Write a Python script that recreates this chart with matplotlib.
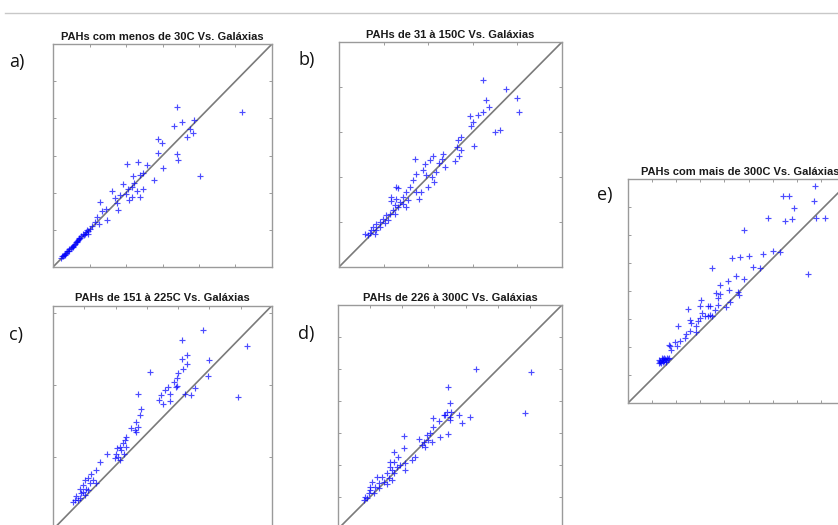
import numpy as np
import matplotlib
matplotlib.use('Agg')
import matplotlib.pyplot as plt
from matplotlib.lines import Line2D

# values, as fractions of each axis (diagonal = 1:1)
pts_a = [(0.565, 0.716), (0.861, 0.696), (0.588, 0.648), (0.554, 0.632), (0.645, 0.659),
         (0.626, 0.621), (0.638, 0.602), (0.610, 0.581), (0.481, 0.572), (0.499, 0.554),
         (0.481, 0.509), (0.565, 0.506), (0.572, 0.482), (0.671, 0.409), (0.336, 0.464),
         (0.390, 0.469), (0.431, 0.457), (0.504, 0.442), (0.409, 0.422), (0.397, 0.412),
         (0.367, 0.407), (0.461, 0.389), (0.370, 0.377), (0.359, 0.359), (0.321, 0.371),
         (0.344, 0.352), (0.412, 0.352), (0.268, 0.341), (0.283, 0.311), (0.306, 0.322),
         (0.333, 0.329), (0.349, 0.299), (0.298, 0.254), (0.294, 0.287), (0.215, 0.292),
         (0.242, 0.262), (0.222, 0.251), (0.199, 0.222), (0.248, 0.210), (0.192, 0.202),
         (0.177, 0.183), (0.157, 0.165), (0.135, 0.147), (0.161, 0.150), (0.212, 0.192),
         (0.382, 0.341), (0.397, 0.314), (0.359, 0.314),
         (0.035, 0.042), (0.040, 0.048), (0.045, 0.050), (0.050, 0.055), (0.055, 0.060),
         (0.060, 0.063), (0.065, 0.070), (0.070, 0.072), (0.075, 0.080), (0.080, 0.085),
         (0.085, 0.088), (0.090, 0.095), (0.095, 0.100), (0.100, 0.105), (0.105, 0.112),
         (0.110, 0.113), (0.115, 0.120), (0.120, 0.125), (0.125, 0.130), (0.130, 0.138),
         (0.140, 0.145), (0.145, 0.150), (0.150, 0.158), (0.055, 0.052), (0.075, 0.070),
         (0.090, 0.088), (0.110, 0.118), (0.120, 0.130), (0.160, 0.160), (0.170, 0.172)]

pts_b = [(0.644, 0.831), (0.749, 0.789), (0.796, 0.749), (0.659, 0.742), (0.674, 0.709),
         (0.805, 0.690), (0.644, 0.690), (0.624, 0.675), (0.587, 0.671), (0.599, 0.645),
         (0.594, 0.626), (0.722, 0.611), (0.698, 0.602), (0.534, 0.565), (0.549, 0.576),
         (0.605, 0.540), (0.527, 0.534), (0.545, 0.519), (0.539, 0.493), (0.519, 0.472),
         (0.467, 0.504), (0.460, 0.482), (0.422, 0.493), (0.449, 0.464), (0.474, 0.445),
         (0.407, 0.475), (0.386, 0.460), (0.340, 0.478), (0.377, 0.430), (0.437, 0.423),
         (0.392, 0.408), (0.415, 0.401), (0.347, 0.415), (0.400, 0.356), (0.428, 0.378),
         (0.332, 0.386), (0.317, 0.356), (0.347, 0.334), (0.368, 0.334), (0.358, 0.304),
         (0.302, 0.334), (0.257, 0.356), (0.265, 0.349), (0.287, 0.312), (0.310, 0.297),
         (0.275, 0.289), (0.257, 0.304), (0.235, 0.309), (0.287, 0.279), (0.302, 0.267),
         (0.265, 0.267), (0.250, 0.274), (0.243, 0.252), (0.228, 0.237), (0.250, 0.237),
         (0.213, 0.230), (0.198, 0.215), (0.220, 0.208), (0.183, 0.200), (0.168, 0.190),
         (0.205, 0.196), (0.153, 0.178), (0.168, 0.163), (0.145, 0.163), (0.138, 0.151),
         (0.160, 0.148), (0.130, 0.141), (0.235, 0.294), (0.183, 0.178), (0.115, 0.148)]

pts_c = [(0.683, 0.892), (0.587, 0.847), (0.887, 0.820), (0.610, 0.777), (0.591, 0.761),
         (0.713, 0.758), (0.613, 0.740), (0.595, 0.718), (0.572, 0.699), (0.709, 0.684),
         (0.445, 0.702), (0.564, 0.678), (0.552, 0.658), (0.526, 0.636), (0.564, 0.639),
         (0.560, 0.635), (0.648, 0.633), (0.602, 0.607), (0.628, 0.599), (0.846, 0.592),
         (0.534, 0.607), (0.511, 0.621), (0.495, 0.599), (0.485, 0.577), (0.503, 0.562),
         (0.534, 0.574), (0.389, 0.607), (0.404, 0.540), (0.396, 0.510), (0.378, 0.480),
         (0.389, 0.458), (0.373, 0.443), (0.381, 0.436), (0.358, 0.452), (0.335, 0.413),
         (0.328, 0.399), (0.320, 0.384), (0.305, 0.369), (0.332, 0.369), (0.290, 0.362),
         (0.312, 0.354), (0.287, 0.339), (0.297, 0.324), (0.323, 0.339), (0.282, 0.317),
         (0.305, 0.310), (0.247, 0.339), (0.213, 0.302), (0.195, 0.265), (0.175, 0.250),
         (0.160, 0.228), (0.183, 0.221), (0.145, 0.221), (0.168, 0.206), (0.137, 0.198),
         (0.122, 0.183), (0.152, 0.183), (0.130, 0.161), (0.107, 0.149), (0.099, 0.131),
         (0.114, 0.131), (0.160, 0.176), (0.198, 0.206), (0.137, 0.168), (0.122, 0.139),
         (0.091, 0.124), (0.145, 0.153)]

pts_d = [(0.617, 0.714), (0.860, 0.702), (0.489, 0.632), (0.498, 0.564), (0.835, 0.519),
         (0.486, 0.524), (0.478, 0.509), (0.500, 0.501), (0.538, 0.509), (0.590, 0.501),
         (0.553, 0.475), (0.500, 0.487), (0.426, 0.494), (0.449, 0.484), (0.423, 0.457),
         (0.489, 0.424), (0.456, 0.412), (0.412, 0.427), (0.397, 0.420), (0.360, 0.400),
         (0.382, 0.390), (0.404, 0.397), (0.419, 0.390), (0.374, 0.375), (0.389, 0.368),
         (0.296, 0.417), (0.293, 0.360), (0.345, 0.323), (0.330, 0.308), (0.251, 0.345),
         (0.270, 0.323), (0.300, 0.293), (0.248, 0.301), (0.278, 0.286), (0.233, 0.278),
         (0.241, 0.263), (0.218, 0.249), (0.248, 0.249), (0.300, 0.263), (0.196, 0.234),
         (0.226, 0.226), (0.174, 0.231), (0.152, 0.211), (0.181, 0.204), (0.204, 0.211),
         (0.166, 0.189), (0.144, 0.174), (0.159, 0.159), (0.137, 0.159), (0.122, 0.144),
         (0.129, 0.137), (0.114, 0.129), (0.241, 0.219), (0.218, 0.201), (0.233, 0.301),
         (0.263, 0.278), (0.181, 0.182), (0.144, 0.189), (0.472, 0.509), (0.505, 0.524)]

pts_e = [(0.836, 0.967), (0.692, 0.923), (0.717, 0.923), (0.829, 0.904), (0.740, 0.871),
         (0.625, 0.826), (0.699, 0.811), (0.732, 0.821), (0.841, 0.826), (0.878, 0.826),
         (0.516, 0.771), (0.647, 0.677), (0.680, 0.673), (0.603, 0.667), (0.540, 0.655),
         (0.499, 0.652), (0.466, 0.647), (0.558, 0.607), (0.588, 0.603), (0.375, 0.603),
         (0.481, 0.565), (0.516, 0.554), (0.804, 0.576), (0.446, 0.543), (0.409, 0.528),
         (0.451, 0.506), (0.491, 0.494), (0.496, 0.484), (0.394, 0.491), (0.412, 0.488),
         (0.402, 0.469), (0.457, 0.449), (0.439, 0.429), (0.324, 0.458), (0.357, 0.435),
         (0.365, 0.432), (0.402, 0.439), (0.320, 0.435), (0.387, 0.417), (0.376, 0.390),
         (0.332, 0.402), (0.320, 0.379), (0.312, 0.365), (0.342, 0.390), (0.268, 0.420),
         (0.283, 0.357), (0.305, 0.342), (0.275, 0.320), (0.302, 0.315), (0.260, 0.310),
         (0.223, 0.342), (0.253, 0.290), (0.231, 0.275), (0.219, 0.253), (0.208, 0.271),
         (0.186, 0.256), (0.193, 0.238), (0.183, 0.260), (0.275, 0.372), (0.365, 0.391),
         (0.357, 0.387),
         (0.140, 0.192), (0.145, 0.185), (0.150, 0.190), (0.155, 0.195), (0.160, 0.188),
         (0.165, 0.195), (0.170, 0.190), (0.175, 0.200), (0.138, 0.180), (0.148, 0.178),
         (0.158, 0.183), (0.168, 0.182), (0.180, 0.195), (0.185, 0.200), (0.150, 0.200),
         (0.162, 0.200), (0.144, 0.188)]

titles = ['PAHs com menos de 30C Vs. Galáxias', 'PAHs de 31 à 150C Vs. Galáxias',
          'PAHs de 151 à 225C Vs. Galáxias', 'PAHs de 226 à 300C Vs. Galáxias',
          'PAHs com mais de 300C Vs. Galáxias']
letters = ['a)', 'b)', 'c)', 'd)', 'e)']

# tick positions (fractions of axis)
xticks = [np.arange(0, 1.001, 1/6), np.arange(0, 1.001, 1/5), np.arange(0, 1.001, 1/7),
          np.arange(0, 1.001, 1/7), np.arange(0, 1.001, 0.1076)]
yticks = [np.arange(0, 1.001, 1/6), np.arange(0, 1.001, 1/5), np.arange(0, 1.001, 0.322),
          np.arange(0, 1.001, 1/7), np.arange(0, 1.001, 1/8)]

W, H = 838, 525
fig = plt.figure(figsize=(W/100, H/100), dpi=100)
fig.set_facecolor('white')

def px_axes(L, T, R, B):
    return fig.add_axes([L/W, 1 - B/H, (R-L)/W, (B-T)/H])

boxes = [(53, 44, 272, 267), (339, 42, 562, 267), (53, 305.5, 272, 529.5),
         (338, 305, 562, 529), (628, 179, 852, 403)]
letter_pos = [(9, 62), (298, 60), (9, 335), (298, 334), (597, 195)]
all_pts = [pts_a, pts_b, pts_c, pts_d, pts_e]

for i in range(5):
    ax = px_axes(*boxes[i])
    p = np.array(all_pts[i])
    ax.plot([0, 1], [0, 1], color='#7a7a7a', lw=1.2, zorder=2)
    ax.plot(p[:, 0], p[:, 1], '+', color='#0000ff', alpha=0.7, ms=5, mew=0.85, zorder=3)
    ax.set_xlim(0, 1)
    ax.set_ylim(0, 1)
    ax.set_xticks(xticks[i])
    ax.set_yticks(yticks[i])
    ax.set_xticklabels([])
    ax.set_yticklabels([])
    ax.tick_params(direction='in', length=2.5, width=0.6, color='#8c8c8c',
                   top=True, right=True)
    for s in ax.spines.values():
        s.set_color('#9a9a9a')
        s.set_linewidth(1.0)
    ax.set_title(titles[i], fontsize=8, fontweight='bold', family='Liberation Sans',
                 color='#1a1a1a', pad=3)
    fig.text(letter_pos[i][0]/W, 1 - letter_pos[i][1]/H, letters[i], fontsize=13,
             family='Open Sans', va='center', ha='left', color='#111111')

# separator line at top of page
fig.add_artist(Line2D([5/W, 1], [1 - 12.7/H, 1 - 12.7/H], color='#c8c8c8', lw=1))

fig.savefig('out.png', dpi=100, facecolor='white')
